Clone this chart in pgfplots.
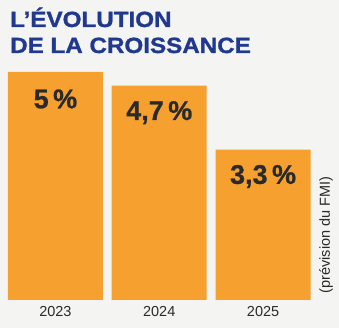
\documentclass[border=0pt]{standalone}
\usepackage{pgfplots}
\pgfplotsset{compat=1.18}
\usepackage{fontspec}
\setmainfont{Liberation Sans}
\newfontfamily\titlefont[FakeStretch=1.1, BoldFeatures={FakeBold=1.2}]{Liberation Sans}
\newfontfamily\valfont[BoldFeatures={FakeBold=0.8}]{Liberation Sans}
\definecolor{bg}{HTML}{F4F4F2}
\definecolor{barc}{HTML}{F6A12F}
\definecolor{titc}{HTML}{20398E}
\definecolor{txt}{HTML}{2A2A2A}
\begin{document}
\begin{tikzpicture}[x=1pt,y=1pt]
\useasboundingbox (0,0) rectangle (339,328);
\fill[bg] (0,0) rectangle (339,328);
\node[anchor=base west, inner sep=0pt, font=\titlefont\bfseries\fontsize{22}{22}\selectfont, text=titc] at (10,301) {L’ÉVOLUTION};
\node[anchor=base west, inner sep=0pt, font=\titlefont\bfseries\fontsize{22}{22}\selectfont, text=titc] at (10,275) {DE LA CROISSANCE};
\begin{axis}[
  at={(8pt,28pt)}, anchor=south west,
  width=302pt, height=228pt, scale only axis,
  xmin=-0.4567, xmax=2.452, ymin=0, ymax=5,
  axis x line*=bottom, axis y line=none,
  axis line style={draw=none},
  major tick length=0pt,
  clip=false,
  ybar, bar width=95pt,
  xtick=data, xticklabels={2023,2024,2025},
  xticklabel style={font=\fontsize{14.5}{14.5}\selectfont, text=txt, yshift=-3pt},
  nodes near coords,
  point meta=explicit symbolic,
  every node near coord/.style={anchor=center, yshift=-27pt, font=\valfont\bfseries\fontsize{27}{27}\selectfont, text=txt},
]
\addplot[fill=barc, draw=none] table[meta=lab] {
x y lab
0 5.0 {5\,\%}
1 4.7 {4,7\,\%}
2 3.3 {3,3\,\%}
};
\end{axis}
\node[rotate=90, anchor=west, font=\fontsize{14.5}{14.5}\selectfont, text=txt] at (326,31) {(prévision du FMI)};
\end{tikzpicture}
\end{document}
